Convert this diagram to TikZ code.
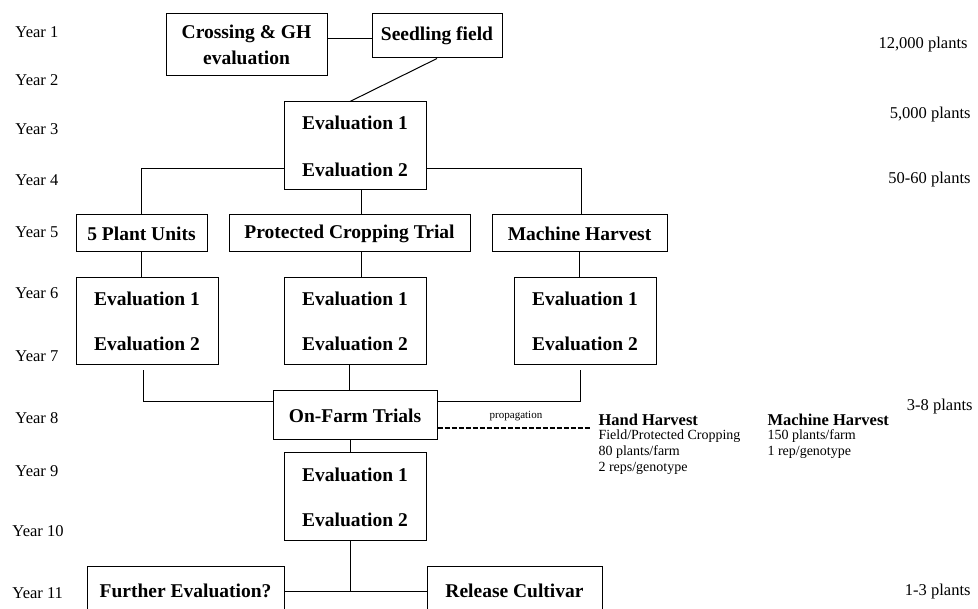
\documentclass[tikz,border=0pt]{standalone}
\usepackage{fontspec}
\setmainfont{Liberation Serif}
\begin{document}
\begin{tikzpicture}[x=1pt,y=-1pt, line width=1pt,
  box/.style={draw, inner sep=0pt, align=center, font=\bfseries\fontsize{19.5}{24}\selectfont},
  yr/.style={anchor=west, inner sep=0pt, font=\fontsize{16.5}{19}\selectfont},
  cnt/.style={anchor=east, inner sep=0pt, font=\fontsize{16.5}{19}\selectfont},
  hdr/.style={anchor=west, inner sep=0pt, font=\bfseries\fontsize{16.5}{19}\selectfont},
  sub/.style={anchor=west, inner sep=0pt, font=\fontsize{14}{16}\selectfont},
  small/.style={inner sep=0pt, font=\fontsize{11}{13}\selectfont}]
\useasboundingbox (0,0) rectangle (978,609);
\clip (0,0) rectangle (978,609);

% boxes
\node[box, minimum width=161, minimum height=62] (cross) at (246.5,45) {Crossing \& GH\\[2pt]evaluation};
\node[box, minimum width=130, minimum height=44] (seed) at (437,36) {Seedling field};
\node[box, minimum width=142, minimum height=88] (e1) at (355,146) {Evaluation 1\\[23pt]Evaluation 2};
\node[box, minimum width=131, minimum height=37] (pu) at (141.5,233.5) {5 Plant Units};
\node[box, minimum width=241, minimum height=37] (pct) at (349.5,233.5) {Protected Cropping Trial};
\node[box, minimum width=175, minimum height=37] (mh) at (579.5,233.5) {Machine Harvest};
\node[box, minimum width=142, minimum height=87] (ea) at (147,321.5) {Evaluation 1\\[21pt]Evaluation 2};
\node[box, minimum width=142, minimum height=87] (eb) at (355,321.5) {Evaluation 1\\[21pt]Evaluation 2};
\node[box, minimum width=142, minimum height=87] (ec) at (585,321.5) {Evaluation 1\\[21pt]Evaluation 2};
\node[box, minimum width=164, minimum height=49] (of) at (355,415.5) {On-Farm Trials};
\node[box, minimum width=142, minimum height=88] (e3) at (355,497) {Evaluation 1\\[21pt]Evaluation 2};
\node[box, minimum width=197, minimum height=50] (fe) at (185.5,591) {Further Evaluation?};
\node[box, minimum width=175, minimum height=50] (rc) at (514.5,591) {Release Cultivar};

% connectors
\draw ([yshift=-3pt]seed.west) -- ([yshift=-3pt]seed.west -| cross.east);
\draw (seed.south) -- ([xshift=-5pt]e1.north);
\draw ([yshift=-23pt]e1.west) -| (pu.north);
\draw ([yshift=-23pt]e1.east) -| ([xshift=2pt]mh.north);
\draw ([xshift=6pt]e1.south) -- ([xshift=6pt]e1.south |- pct.north);
\draw (pu.south) -- (pu.south |- ea.north);
\draw ([xshift=6pt]eb.north) -- ([xshift=6pt]eb.north |- pct.south);
\draw (mh.south) -- (mh.south |- ec.north);
\draw ([xshift=-4pt,yshift=-5pt]ea.south) |- ([yshift=13.5pt]of.west);
\draw ([xshift=-5pt,yshift=-5pt]ec.south) |- ([yshift=13.5pt]of.east);
\draw ([xshift=-5.5pt]eb.south) -- ([xshift=-5.5pt]eb.south |- of.north);
\draw ([xshift=-5pt]of.south) -- ([xshift=-5pt]of.south |- e3.north);
\draw ([xshift=-5pt]e3.south) -- ([xshift=-5pt]e3.south |- fe.east);
\draw (fe.east) -- (rc.west);
\coordinate (pe) at (591,428);
\draw[line width=1.3pt, dash pattern=on 5pt off 2pt] ([yshift=-12.5pt]of.east) -- (pe);
\node[small] (prop) at (516,416) {propagation};

% years
\node[yr] (y1) at (15,32) {Year 1};
\node[yr] (y2) at (15,80) {Year 2};
\node[yr] (y3) at (15,129) {Year 3};
\node[yr] (y4) at (15,180) {Year 4};
\node[yr] (y5) at (15,232) {Year 5};
\node[yr] (y6) at (15,293) {Year 6};
\node[yr] (y7) at (15,356) {Year 7};
\node[yr] (y8) at (15,418) {Year 8};
\node[yr] (y9) at (15,471) {Year 9};
\node[yr] (y10) at (12,531) {Year 10};
\node[yr] (y11) at (12,593) {Year 11};

% counts
\node[cnt] (c1) at (968,45) {12,000 plants};
\node[cnt] (c2) at (971,115) {5,000 plants};
\node[cnt] (c3) at (971,180) {50-60 plants};
\node[cnt] (c4) at (973,407) {3-8 plants};
\node[cnt] (c5) at (971,592) {1-3 plants};

% harvest notes
\node[hdr] (hh) at (598,420) {Hand Harvest};
\node[sub] (hh1) at (598,436) {Field/Protected Cropping};
\node[sub] (hh2) at (598,452) {80 plants/farm};
\node[sub] (hh3) at (598,468) {2 reps/genotype};
\node[hdr] (mhh) at (767,420) {Machine Harvest};
\node[sub] (mh1) at (767,436) {150 plants/farm};
\node[sub] (mh2) at (767,452) {1 rep/genotype};
\end{tikzpicture}
\end{document}
